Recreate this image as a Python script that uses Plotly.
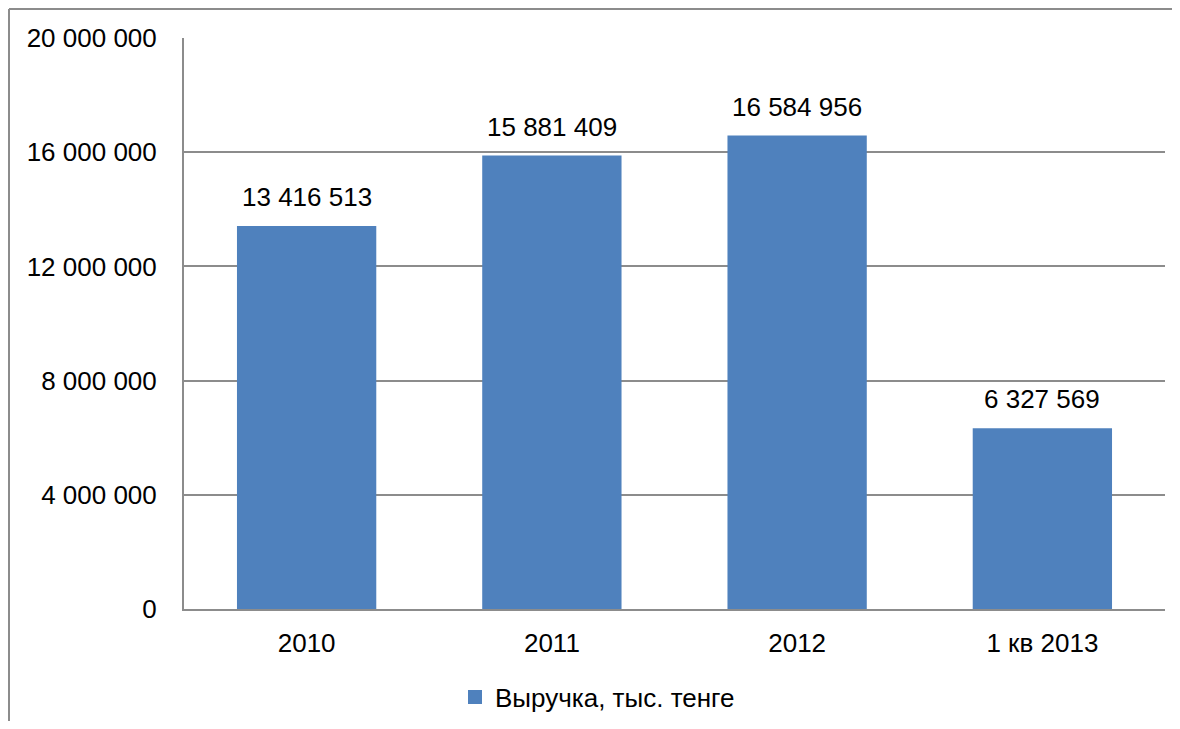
import plotly.graph_objects as go

categories = ["2010", "2011", "2012", "1 кв 2013"]
values = [13416513, 15881409, 16584956, 6327569]
label_texts = ["13 416 513", "15 881 409", "16 584 956", "6 327 569"]
tick_vals = [0, 4000000, 8000000, 12000000, 16000000, 20000000]
tick_text = ["0", "4 000 000", "8 000 000", "12 000 000", "16 000 000", "20 000 000"]
series_name = "Выручка, тыс. тенге"

# page body has an 8px margin
W, H = 1164, 713
L, R, T, B = 176, 7, 30, 112
pw, ph = W - L - R, H - T - B
FS = 26
FONT = "Liberation Sans, Arial, sans-serif"
BAR = "#4F81BD"

fig = go.Figure()
fig.add_trace(go.Bar(
    x=categories, y=values, name=series_name,
    marker=dict(color=BAR, line=dict(width=0)),
    showlegend=False,
))
# legend entry with a larger square swatch
fig.add_trace(go.Scatter(
    x=[None], y=[None], mode="markers", name=series_name,
    marker=dict(symbol="square", size=14, color=BAR), showlegend=True,
))
for i, (v, t) in enumerate(zip(values, label_texts)):
    fig.add_annotation(x=i, y=v, text=t, showarrow=False, yanchor="bottom",
                       yshift=12, font=dict(size=FS, color="#000000", family=FONT))

grid = "#8C8C8C"
bx = (9 - (8 + L)) / pw
by = 1 + ((8 + T) - 9) / ph
fig.update_layout(
    width=W, height=H,
    margin=dict(l=L, r=R, t=T, b=B, pad=0, autoexpand=False),
    paper_bgcolor="white", plot_bgcolor="white",
    font=dict(family=FONT, size=FS, color="#000000"),
    bargap=0.432,
    xaxis=dict(type="category", showgrid=False, showline=True, linecolor=grid, linewidth=2,
               automargin=False, ticks="", tickfont=dict(size=FS), ticklabelstandoff=10),
    yaxis=dict(range=[0, 20000000], tickvals=tick_vals, ticktext=tick_text, automargin=False,
               showgrid=True, gridcolor=grid, gridwidth=1.5,
               showline=True, linecolor=grid, linewidth=2,
               zeroline=False, ticks="", tickfont=dict(size=FS), ticklabelstandoff=20),
    legend=dict(orientation="h", x=(455 - 184) / pw, xanchor="left",
                y=(609 - 697) / ph, yanchor="middle",
                font=dict(size=FS), itemwidth=30, traceorder="normal"),
    shapes=[
        dict(type="line", xref="paper", yref="paper", x0=bx, x1=bx, y0=-0.5, y1=by,
             line=dict(color="#8C8C8C", width=2)),
        dict(type="line", xref="paper", yref="paper", x0=bx, x1=1.5, y0=by, y1=by,
             line=dict(color="#8C8C8C", width=2)),
    ],
)
fig.write_html("out.html")
